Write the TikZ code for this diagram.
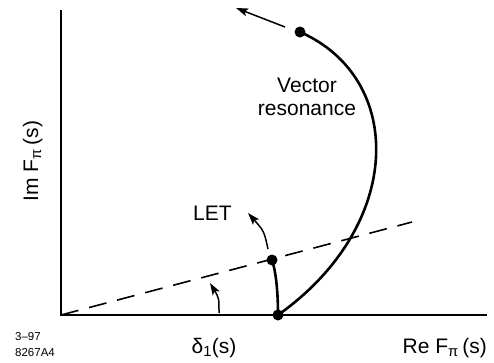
\documentclass[tikz,border=0pt]{standalone}
\usepackage{fontspec}
\setmainfont{Liberation Sans}
\usetikzlibrary{arrows.meta}
\begin{document}
\begin{tikzpicture}[x=1pt,y=-1pt,
  axis/.style={line width=2.2pt},
  curve/.style={line width=2.6pt},
  dashline/.style={line width=1.6pt, dash pattern=on 18pt off 11pt},
  arr/.style={line width=1.5pt, -{Stealth[length=12pt,width=8pt,inset=2.5pt]}},
  dot/.style={circle, fill=black, inner sep=0pt, minimum size=11pt},
  lbl/.style={font=\fontsize{21}{23}\selectfont, inner sep=0pt},
  small/.style={font=\fontsize{11.5}{14}\selectfont, inner sep=0pt, anchor=base west}]
\useasboundingbox (0,0) rectangle (494,362);
% key points
\coordinate (ax0) at (61,315);
\coordinate (ytop) at (61,10);
\coordinate (xend) at (487,315);
\coordinate (dend) at (412,222);
\coordinate (pO) at (278,315);
\coordinate (pL) at (272,260);
\coordinate (pT) at (300,32);
\coordinate (a1s) at (285,27);
\coordinate (a1e) at (236,8);
\coordinate (a2s) at (268,249);
\coordinate (a2e) at (248,213);
\coordinate (a3s) at (219,313);
\coordinate (a3e) at (210,283);
% axes
\draw[axis] (ytop) -- (ax0) -- (xend);
% dashed line
\draw[dashline] (ax0) -- (dend);
% curves
\draw[curve] (pO) .. controls (405,225) and (405,78) .. (pT);
\draw[curve] (pO) .. controls (278,292) and (276,272) .. (pL);
% dots
\node[dot] (O) at (pO) {};
\node[dot] (L) at (pL) {};
\node[dot] (T) at (pT) {};
% arrows
\draw[arr] (a1s) -- (a1e);
\draw[arr] (a2s) .. controls (264,231) .. (a2e);
\draw[arr] (a3s) .. controls (219,298) .. (a3e);
% labels
\node[lbl, align=center, anchor=base] (vec) at (307,115) {Vector\\resonance};
\node[lbl, anchor=base west] (let) at (193,220) {LET};
\node[lbl, anchor=base, rotate=90] (im) at (38,161) {Im F\textsubscript{π}\,(s)};
\node[lbl, anchor=base] (delta) at (214,353) {δ\textsubscript{1}(s)};
\node[lbl, anchor=base east] (re) at (487,353) {Re F\textsubscript{π}\,(s)};
\node[small] (d1) at (15,340) {3–97};
\node[small] (d2) at (15,356) {8267A4};
\end{tikzpicture}
\end{document}
